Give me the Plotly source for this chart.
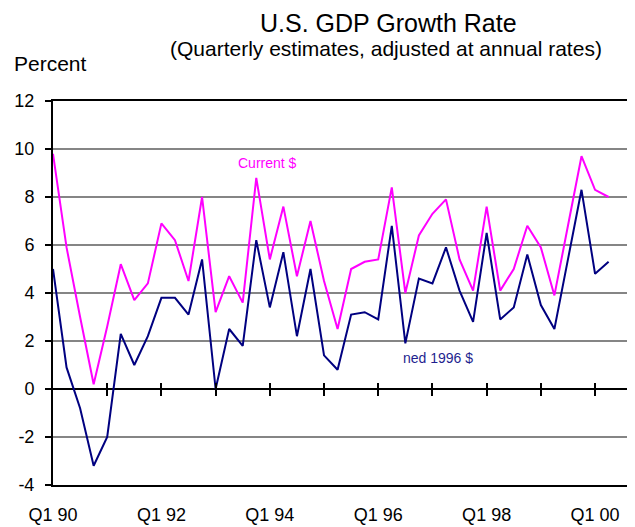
import plotly.graph_objects as go

# Quarter categories Q1 90 .. Q2 00
years = ["90", "91", "92", "93", "94", "95", "96", "97", "98", "99", "00"]
quarters = [f"Q{q} {y}" for y in years for q in (1, 2, 3, 4)][:42]

current_dollars = [9.8, 5.9, 3.0, 0.2, 2.6, 5.2, 3.7, 4.4, 6.9, 6.2, 4.5, 8.0,
                   3.2, 4.7, 3.6, 8.8, 5.4, 7.6, 4.7, 7.0, 4.5, 2.5, 5.0, 5.3,
                   5.4, 8.4, 4.0, 6.4, 7.3, 7.9, 5.4, 4.1, 7.6, 4.1, 5.0, 6.8,
                   5.9, 3.9, 6.8, 9.7, 8.3, 8.0]
chained_1996 = [5.0, 0.9, -0.8, -3.2, -2.0, 2.3, 1.0, 2.2, 3.8, 3.8, 3.1, 5.4,
                0.0, 2.5, 1.8, 6.2, 3.4, 5.7, 2.2, 5.0, 1.4, 0.8, 3.1, 3.2,
                2.9, 6.8, 1.9, 4.6, 4.4, 5.9, 4.1, 2.8, 6.5, 2.9, 3.4, 5.6,
                3.5, 2.5, 5.4, 8.3, 4.8, 5.3]

label_ticks = ["Q1 90", "Q1 92", "Q1 94", "Q1 96", "Q1 98", "Q1 00"]
mark_ticks = ["Q1 91", "Q1 92", "Q1 93", "Q1 94", "Q1 95", "Q1 96", "Q1 97",
              "Q1 98", "Q1 99", "Q1 00"]
y_ticks = [-4, -2, 0, 2, 4, 6, 8, 10, 12]
y_tick_text = ["-4", "-2", "0", "2", "4", "6", "8", "10", "12"]

FONT = "Liberation Sans, Arial, sans-serif"
XR = [0, 42.8]

fig = go.Figure()
fig.add_trace(go.Scatter(x=quarters, y=current_dollars, mode="lines",
                         line=dict(color="#FF00FF", width=2),
                         name="Current $", showlegend=False))
fig.add_trace(go.Scatter(x=quarters, y=chained_1996, mode="lines",
                         line=dict(color="#000080", width=2),
                         name="Chained 1996 $", showlegend=False))
# invisible traces to host tick-mark axes crossing the zero line
for ax in ("x2", "x3"):
    fig.add_trace(go.Scatter(x=quarters, y=chained_1996, xaxis=ax, yaxis="y",
                             mode="lines", line=dict(width=0), opacity=0,
                             hoverinfo="skip", showlegend=False))

# page body has an 8px margin: the figure is sized/offset to compensate
fig.update_layout(
    width=627, height=519,
    margin=dict(l=45, r=2, t=93, b=42, autoexpand=False),
    paper_bgcolor="white", plot_bgcolor="white",
    font=dict(family=FONT, color="black", size=18),
    xaxis=dict(type="category", range=XR, showgrid=False, zeroline=False,
               automargin=False,
               showline=True, linecolor="black", linewidth=2, mirror=True,
               tickmode="array", tickvals=label_ticks, ticktext=label_ticks,
               ticks="", ticklabelstandoff=12,
               tickfont=dict(size=18, family=FONT)),
    xaxis2=dict(type="category", range=XR, overlaying="x", anchor="free",
                automargin=False,
                position=0.25, side="bottom", showline=False, showgrid=False,
                zeroline=False, tickmode="array", tickvals=mark_ticks,
                ticks="outside", ticklen=6, tickwidth=2, tickcolor="black",
                showticklabels=False),
    xaxis3=dict(type="category", range=XR, overlaying="x", anchor="free",
                automargin=False,
                position=0.25, side="top", showline=False, showgrid=False,
                zeroline=False, tickmode="array", tickvals=mark_ticks,
                ticks="outside", ticklen=6, tickwidth=2, tickcolor="black",
                showticklabels=False),
    yaxis=dict(range=[-4, 12], tickmode="array", tickvals=y_ticks,
               ticktext=y_tick_text, automargin=False,
               showgrid=True, gridcolor="#858585", gridwidth=1.5,
               zeroline=True, zerolinecolor="black", zerolinewidth=2,
               showline=True, linecolor="black", linewidth=2,
               ticks="outside", ticklen=6, tickwidth=2, tickcolor="black",
               ticklabelstandoff=7, tickfont=dict(size=18, family=FONT)),
    shapes=[dict(type="line", xref="paper", yref="paper", x0=1, x1=1,
                 y0=0, y1=1, line=dict(color="#8c8c8c", width=1))],
    annotations=[
        dict(text="U.S. GDP Growth Rate", xref="paper", yref="paper",
             x=(388 - 53) / 580, y=(485 - 23) / 384, xanchor="center",
             yanchor="middle", showarrow=False,
             font=dict(size=25, family=FONT)),
        dict(text="(Quarterly estimates, adjusted at annual rates)",
             xref="paper", yref="paper", x=(386 - 53) / 580,
             y=(485 - 49) / 384, xanchor="center", yanchor="middle",
             showarrow=False, font=dict(size=21, family=FONT)),
        dict(text="Percent", xref="paper", yref="paper",
             x=(12 - 53) / 580, y=(485 - 64) / 384, xanchor="left",
             yanchor="middle", showarrow=False,
             font=dict(size=21, family=FONT)),
        dict(text="Current $", x=15.8, y=9.42, xref="x", yref="y",
             showarrow=False, font=dict(size=14, color="#FF00FF",
                                        family=FONT)),
        dict(text="ned 1996 $", x=28.4, y=1.29, xref="x", yref="y",
             showarrow=False, font=dict(size=14, color="#1f1f8f",
                                        family=FONT)),
    ],
)

fig.write_html("out.html")
